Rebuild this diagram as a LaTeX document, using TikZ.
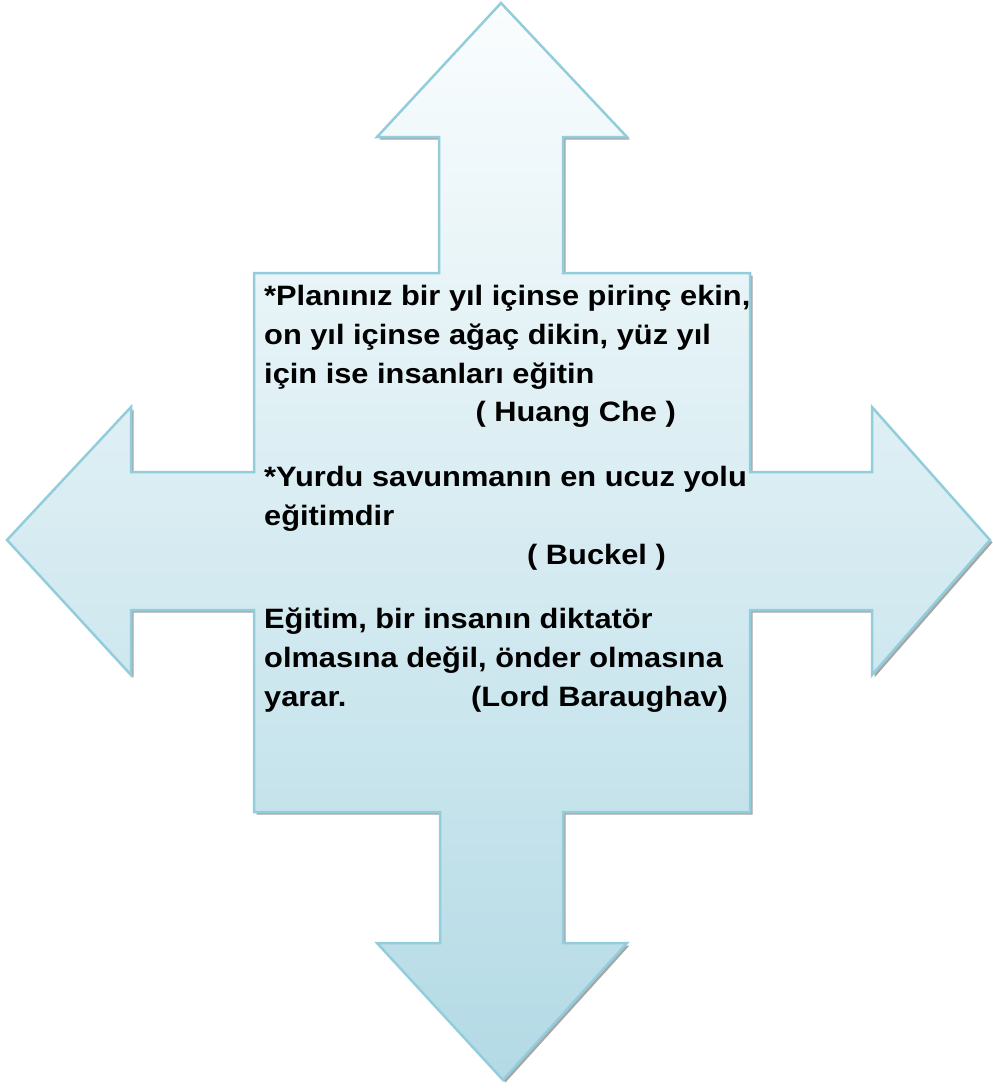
\documentclass[tikz,border=0pt]{standalone}
\usepackage{fontspec}
\setmainfont{Liberation Sans}
\newfontfamily\widefont[FakeStretch=1.1]{Liberation Sans}
\definecolor{arrowtop}{HTML}{FAFDFE}
\definecolor{arrowbot}{HTML}{B3DAE5}
\definecolor{arrowline}{HTML}{93CDDC}
\tikzset{
	quote/.style={anchor=base west, inner sep=0pt, font=\widefont\fontsize{28}{39}\selectfont\bfseries},
	author/.style={quote, anchor=base east}
}
\def\crosspath{(501,3) -- (627,137) -- (563,137) -- (563,273) -- (750,273) -- (750,472)
	-- (872,472) -- (872,407) -- (990,540) -- (872,675) -- (872,610) -- (750,610)
	-- (750,812) -- (563,812) -- (563,943) -- (627,943) -- (503,1080) -- (377,943)
	-- (440,943) -- (440,812) -- (254,812) -- (254,610) -- (131,610) -- (131,675)
	-- (7,540) -- (131,407) -- (131,472) -- (254,472) -- (254,273) -- (439,273)
	-- (439,137) -- (377,137) -- cycle}
\begin{document}
\begin{tikzpicture}[x=1pt,y=-1pt]
	\useasboundingbox (0,0) rectangle (993,1088);
	% shadow, then the cross
	\fill[gray!70,xshift=2.5pt,yshift=-2.5pt] \crosspath;
	\draw[line width=2.5pt, arrowline, top color=arrowtop, bottom color=arrowbot] \crosspath;
	% first quote
	\node[quote] (q1a) at (264,305) {*Planınız bir yıl içinse pirinç ekin,};
	\node[quote] (q1b) at (264,344) {on yıl içinse ağaç dikin, yüz yıl};
	\node[quote] (q1c) at (264,383) {için ise insanları eğitin};
	\node[author] (a1) at (676,421) {( Huang Che )};
	% second quote
	\node[quote] (q2a) at (264,486) {*Yurdu savunmanın en ucuz yolu};
	\node[quote] (q2b) at (264,525) {eğitimdir};
	\node[author] (a2) at (666,564) {( Buckel )};
	% third quote
	\node[quote] (q3a) at (264,628) {Eğitim, bir insanın diktatör};
	\node[quote] (q3b) at (264,667) {olmasına değil, önder olmasına};
	\node[quote] (q3c) at (264,706) {yarar.};
	\node[author] (a3) at (728,706) {(Lord Baraughav)};
\end{tikzpicture}
\end{document}
